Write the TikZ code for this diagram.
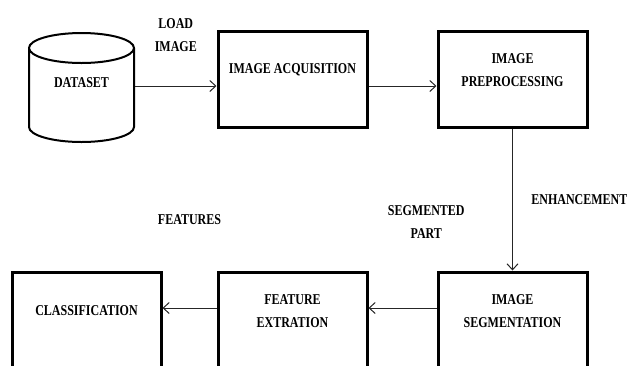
\documentclass[tikz,border=0pt]{standalone}
\usepackage{fontspec}
\newfontfamily\boxfont[FakeStretch=0.8]{Liberation Serif}
\usetikzlibrary{arrows.meta}
\usetikzlibrary{shapes.geometric}

\begin{document}
\begin{tikzpicture}[x=1pt, y=-1pt, >={Straight Barb[length=6pt,width=11pt]},
  txt/.style={font=\boxfont\bfseries\fontsize{15}{23}\selectfont, align=center},
  stage/.style={draw, line width=3pt, minimum width=149pt, minimum height=96pt},
  link/.style={->, line width=1pt, draw=black!85},]
\useasboundingbox (0,0) rectangle (627,365);
\clip (0,0) rectangle (627,365);
\node[draw, line width=2pt, cylinder, shape border rotate=90, inner sep=5pt, aspect=3,
  minimum width=105pt, minimum height=109pt, anchor=shape center] (ds) at (81.5, 87.5) {};
\node[txt] (dslbl) at ([yshift=4.5pt]ds.shape center) {DATASET};
\node[stage, label={[txt, yshift=9pt]center:IMAGE ACQUISITION}] (acq) at (292.5, 79) {};
\node[stage, label={[txt, yshift=9pt]center:IMAGE\\PREPROCESSING}] (pre) at (512.5, 79) {};
\node[stage, label={[txt, yshift=9pt]center:IMAGE\\SEGMENTATION}] (seg) at (512.5, 320) {};
\node[stage, label={[txt, yshift=9pt]center:FEATURE\\EXTRATION}] (fe) at (292.5, 320) {};
\node[stage, label={[txt, yshift=9pt]center:CLASSIFICATION}] (cls) at (86.5, 320) {};
 \draw [link] ([yshift=1.5pt]ds.shape center -| ds.east)--([yshift=1.5pt]ds.shape center -| acq.west) node[midway, above=31pt, txt]{LOAD\\IMAGE};
 \draw [link] ([yshift=-7pt]acq.east)--([yshift=-7pt]pre.west);
 \draw [link] (pre)--(seg) node[midway, right=15pt, txt]{ENHANCEMENT};
 \draw [link] ([yshift=12pt]seg.west)--([yshift=12pt]fe.east) node[pos=0.15, above=66pt, txt]{SEGMENTED\\PART};
 \draw [link] ([yshift=12pt]fe.west)--([yshift=12pt]cls.east) node[midway, above=80pt, txt]{FEATURES};
\end{tikzpicture}
\end{document}
